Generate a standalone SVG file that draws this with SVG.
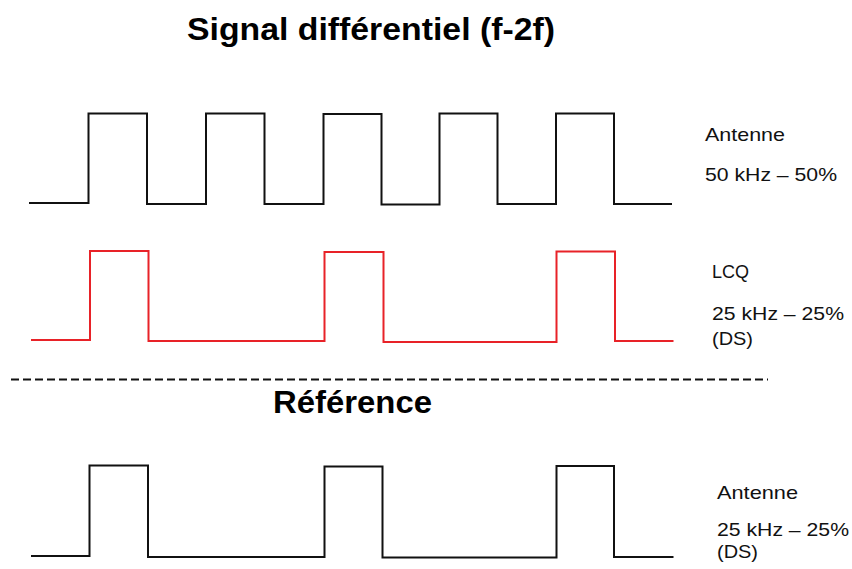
<svg xmlns="http://www.w3.org/2000/svg" width="852" height="569" viewBox="0 0 852 569">
<style>
.wave{fill:none;stroke:#111;stroke-width:2;stroke-linejoin:miter}
.red{stroke:#e82228}
.title{font-family:"Liberation Sans",Arial,sans-serif;font-weight:bold;fill:#000}
.lbl{font-family:"Liberation Sans",Arial,sans-serif;font-size:19px;fill:#111}
.sep{stroke:#111;stroke-width:2;stroke-dasharray:8 4}
</style>
<rect width="852" height="569" fill="#fff"/>
<g id="titles">
<text class="title" x="187" y="40" font-size="31" textLength="368" lengthAdjust="spacingAndGlyphs">Signal différentiel (f-2f)</text>
<text class="title" x="273" y="413" font-size="31" textLength="159" lengthAdjust="spacingAndGlyphs">Référence</text>
</g>
<g id="connectors">
<path id="wave-antenne-50" class="wave" d="M29,203 H88.5 V113.5 H147 V204 H206 V113.5 H264.5 V204 H323.5 V114 H381.5 V204.5 H439.5 V113.5 H497.5 V204 H556 V113.5 H614 V204 H672"/>
<path id="wave-lcq" class="wave red" d="M31,340 H90 V251 H148.5 V341 H324.5 V252 H383.5 V342 H556.5 V251.5 H615 V341 H673.5"/>
<path id="wave-ref" class="wave" d="M31,556 H89.5 V465.5 H148 V557 H324.5 V466.5 H382.5 V557.5 H556.5 V466 H614 V557 H673.5"/>
<line id="separator" class="sep" x1="11" y1="379.5" x2="768" y2="379.5"/>
</g>
<g id="label-antenne-50">
<text class="lbl" x="705" y="141" textLength="80" lengthAdjust="spacingAndGlyphs">Antenne</text>
<text class="lbl" x="705" y="181" textLength="132" lengthAdjust="spacingAndGlyphs">50 kHz – 50%</text>
</g>
<g id="label-lcq">
<text class="lbl" x="712" y="278" textLength="37" lengthAdjust="spacingAndGlyphs">LCQ</text>
<text class="lbl" x="712" y="320" textLength="132" lengthAdjust="spacingAndGlyphs">25 kHz – 25%</text>
<text class="lbl" x="712" y="345" textLength="41" lengthAdjust="spacingAndGlyphs">(DS)</text>
</g>
<g id="label-ref">
<text class="lbl" x="717" y="499" textLength="81" lengthAdjust="spacingAndGlyphs">Antenne</text>
<text class="lbl" x="717" y="536" textLength="132" lengthAdjust="spacingAndGlyphs">25 kHz – 25%</text>
<text class="lbl" x="717" y="558" textLength="41" lengthAdjust="spacingAndGlyphs">(DS)</text>
</g>
</svg>
